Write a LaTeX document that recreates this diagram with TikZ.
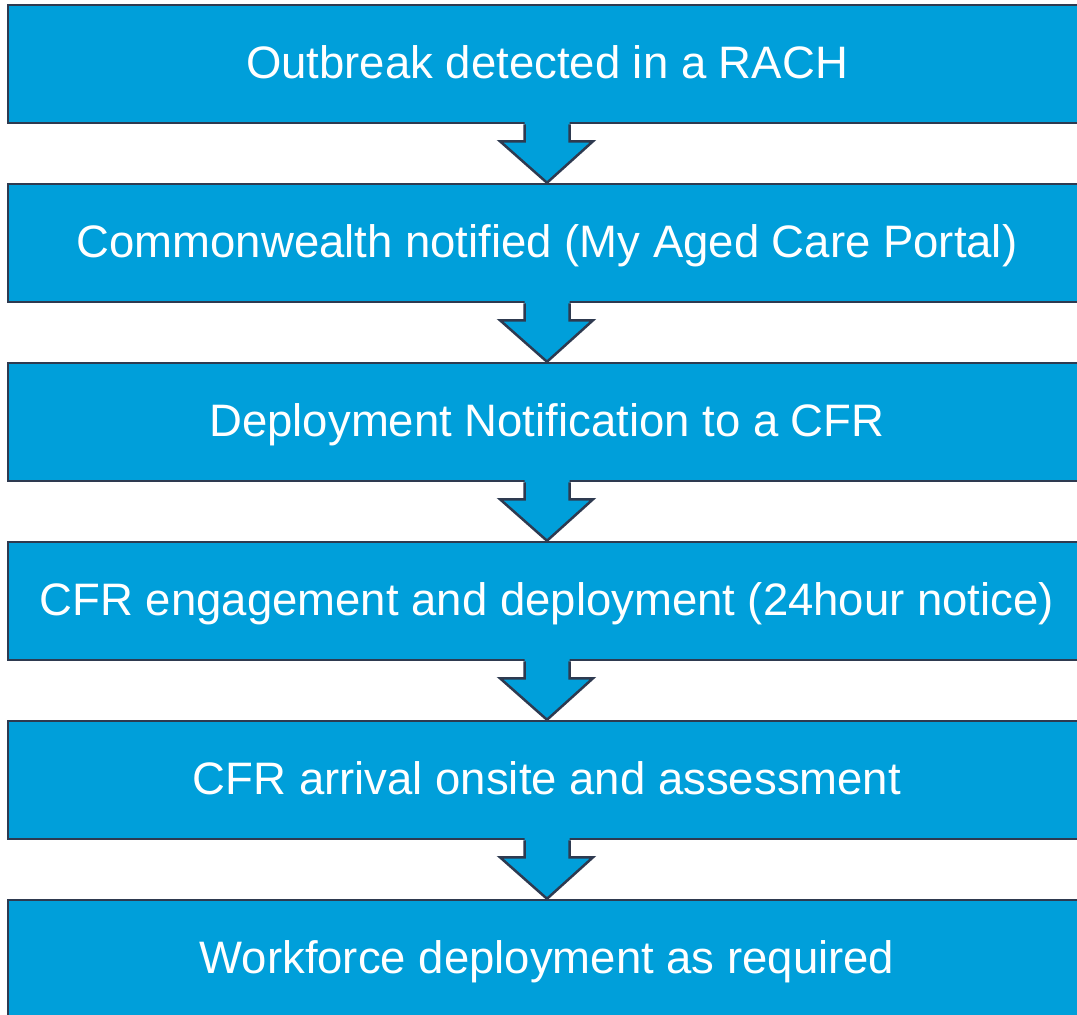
\documentclass[tikz,border=0pt]{standalone}
\usepackage{fontspec}
\setmainfont{Liberation Sans}
\usetikzlibrary{calc}
\definecolor{boxblue}{RGB}{0,159,218}
\definecolor{edgedark}{RGB}{46,58,80}
\begin{document}
\begin{tikzpicture}[x=1pt,y=-1pt,
  stepbox/.style={draw=edgedark,line width=2.5pt,fill=boxblue,text=white,
    minimum width=1078pt,minimum height=118pt,inner sep=0pt,
    font=\fontsize{45.5}{50}\selectfont,text height=38pt,text depth=10pt},
  flowarrow/.style={fill=boxblue},
  flowedge/.style={draw=edgedark,line width=2.5pt,line join=miter}]
\useasboundingbox (0,0) rectangle (1077,1015);
\clip (0,0) rectangle (1077,1015);
\fill[white] (0,0) rectangle (1077,1015);
\newcommand{\flowarr}[2]{%
  \fill[flowarrow] ($(#1.south)+(-22.5,-4)$) -- ($(#1.south)+(-22.5,17)$) -- ($(#1.south)+(-47,17)$)
     -- (#2.north) -- ($(#1.south)+(46,17)$) -- ($(#1.south)+(22.5,17)$) -- ($(#1.south)+(22.5,-4)$) -- cycle;
  \draw[flowedge] ($(#1.south)+(-22.5,0)$) -- ($(#1.south)+(-22.5,17)$) -- ($(#1.south)+(-47,17)$)
     -- (#2.north) -- ($(#1.south)+(46,17)$) -- ($(#1.south)+(22.5,17)$) -- ($(#1.south)+(22.5,0)$);}
\node[stepbox] (b1) at (547,64) {Outbreak detected in a RACH};
\node[stepbox] (b2) at (547,243) {Commonwealth notified (My Aged Care Portal)};
\flowarr{b1}{b2}
\node[stepbox] (b3) at (547,422) {Deployment Notification to a CFR};
\flowarr{b2}{b3}
\node[stepbox] (b4) at (547,601) {CFR engagement and deployment (24hour notice)};
\flowarr{b3}{b4}
\node[stepbox] (b5) at (547,780) {CFR arrival onsite and assessment};
\flowarr{b4}{b5}
\node[stepbox] (b6) at (547,959) {Workforce deployment as required};
\flowarr{b5}{b6}
\end{tikzpicture}
\end{document}
